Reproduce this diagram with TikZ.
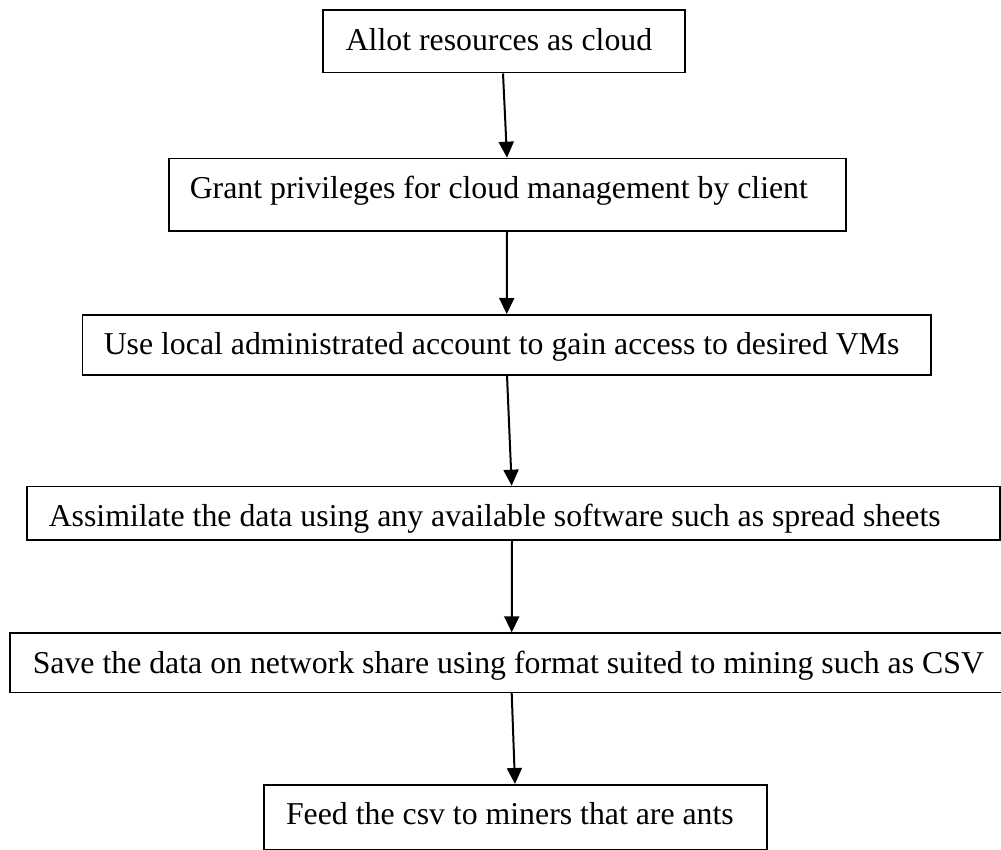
\documentclass[tikz,border=0pt]{standalone}
\usepackage{fontspec}
\setmainfont{Liberation Serif}
\usetikzlibrary{arrows.meta}
\newcommand{\steptext}[2]{\makebox[#1][l]{#2}}
\begin{document}
\begin{tikzpicture}[x=1pt,y=-1pt,
  stepbox/.style={draw=black, line width=1.5pt, anchor=north west,
    inner ysep=0pt, text height=40pt,
    font=\fontsize{31.8}{36}\selectfont},
  flow/.style={draw=black, line width=2pt, -{Triangle[length=16pt,width=15pt]}}]
\useasboundingbox (0,0) rectangle (1001,850);
\fill[white] (0,0) rectangle (1001,850);
\node[stepbox, inner xsep=23pt, text depth=22.7pt] (b1) at (322,9.3) {\steptext{316pt}{Allot resources as cloud}};
\node[stepbox, inner xsep=21pt, text depth=32.4pt] (b2) at (168,157.7) {\steptext{635pt}{Grant privileges for cloud management by client}};
\node[stepbox, inner xsep=21.3pt, text depth=20pt] (b3) at (81.7,314) {\steptext{806pt}{Use local administrated account to gain access to desired VMs}};
\node[stepbox, inner xsep=22pt, text depth=13.6pt] (b4) at (26,485.7) {\steptext{929pt}{Assimilate the data using any available software such as spread sheets}};
\node[stepbox, inner xsep=22.7pt, text depth=19.4pt] (b5) at (9.3,632.3) {\steptext{955pt}{Save the data on network share using format suited to mining such as CSV}};
\node[stepbox, inner xsep=22pt, text depth=25.3pt] (b6) at (263.3,784) {\steptext{459pt}{Feed the csv to miners that are ants}};
\draw[flow] ([xshift=181pt]b1.south west) -- ([xshift=339pt]b2.north west);
\draw[flow] ([xshift=339pt]b2.south west) -- ([xshift=425pt]b3.north west);
\draw[flow] ([xshift=425.3pt]b3.south west) -- ([xshift=485.7pt]b4.north west);
\draw[flow] ([xshift=486pt]b4.south west) -- ([xshift=502.4pt]b5.north west);
\draw[flow] ([xshift=502.4pt]b5.south west) -- ([xshift=251.7pt]b6.north west);
\end{tikzpicture}
\end{document}
